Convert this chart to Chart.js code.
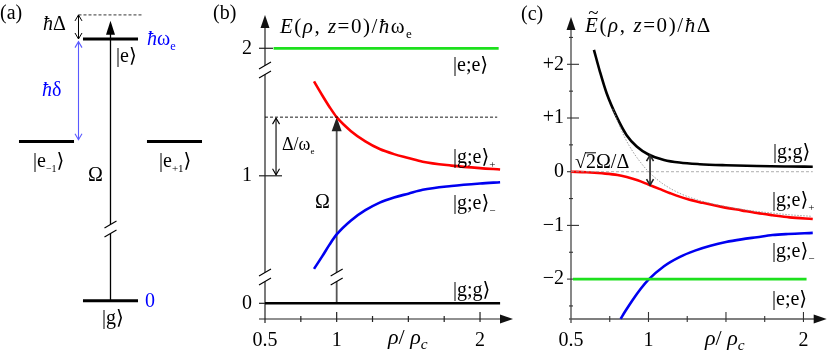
<!DOCTYPE html>
<html>
<head>
<meta charset="utf-8">
<script src="https://cdn.jsdelivr.net/npm/chart.js@4.4.0/dist/chart.umd.min.js"></script>
<style>
  body { margin: 0; background: #fff; width: 830px; height: 359px; position: relative; overflow: hidden; }
  canvas { position: absolute; top: 0; }
</style>
</head>
<body>
<canvas id="panelA" width="215" height="359" style="left:0px"></canvas>
<canvas id="panelB" width="315" height="359" style="left:205px"></canvas>
<canvas id="panelC" width="315" height="359" style="left:515px"></canvas>
<script>
// ---- panel (a): level scheme, energies in units of ħω_e
const aLevelX = [0, 0, -1, 1];          // column of |g>, |e>, |e-1>, |e+1>
const aLevelE = [0, 1, 0.608, 0.608];
const aDetuned = 1.092;                 // ħω_e + ħΔ (laser line)
const aHalfWidth = 0.43;

// ---- panel (b): E(ρ, z=0)/ħω_e
const rhoB = [0.842, 0.9, 0.95, 1.0, 1.1, 1.2, 1.3, 1.4, 1.5, 1.6, 1.8, 2.0, 2.14];
const bPlus = [1.74, 1.63, 1.54, 1.46, 1.35, 1.27, 1.21, 1.17, 1.14, 1.11, 1.08, 1.06, 1.05];
const bMinus = [0.27, 0.37, 0.46, 0.54, 0.65, 0.73, 0.79, 0.83, 0.86, 0.89, 0.92, 0.94, 0.95];
const rhoEEb = [0.56, 2.13];
const bEE = [2, 2];
const rhoGGb = [0.5, 2.14];
const bGG = [0, 0];
const rhoLaserB = [0.5, 2.12];
const bLaser = [1.46, 1.46];
const bTicksX = [0.5, 1, 2];
const bMinorX = [0.75, 1.25, 1.5, 1.75];
const bTicksY = [0, 1, 2];
const bBreaks = [0.206, 1.83];

// ---- panel (c): Ẽ(ρ, z=0)/ħΔ
const rhoGGc = [0.648, 0.687, 0.73, 0.795, 0.859, 0.924, 1.0, 1.1, 1.2, 1.33, 1.5, 1.7, 1.9, 2.06];
const cGG = [2.27, 1.86, 1.46, 1.02, 0.68, 0.47, 0.32, 0.22, 0.17, 0.14, 0.12, 0.105, 0.097, 0.093];
const rhoPlusC = [0.5, 0.6, 0.7, 0.8, 0.86, 0.93, 1.0, 1.07, 1.14, 1.25, 1.35, 1.48, 1.6, 1.7, 1.8, 1.91, 2.06];
const cPlus = [0, -0.01, -0.03, -0.06, -0.10, -0.16, -0.24, -0.32, -0.40, -0.51, -0.58, -0.66, -0.72, -0.77, -0.81, -0.85, -0.88];
const rhoMinusC = [0.82, 0.85, 0.9, 0.95, 1.0, 1.1, 1.2, 1.3, 1.4, 1.5, 1.6, 1.7, 1.8, 1.9, 2.06];
const cMinus = [-2.74, -2.60, -2.38, -2.18, -2.01, -1.76, -1.59, -1.47, -1.38, -1.31, -1.26, -1.22, -1.18, -1.16, -1.14];
const rhoBareC = [0.77, 0.8, 0.85, 0.9, 0.95, 1.0, 1.05, 1.1, 1.2, 1.3, 1.4, 1.5, 1.6, 1.7, 1.8, 1.9, 2.05];
const cBare = [1.17, 0.95, 0.62, 0.37, 0.17, 0.0, -0.13, -0.24, -0.40, -0.51, -0.59, -0.65, -0.70, -0.74, -0.77, -0.80, -0.83];
const rhoEEc = [0.513, 2.02];
const cEE = [-2, -2];
const rhoZeroC = [0.5, 2.06];
const cZero = [0, 0];
const cTicksX = [0.5, 1, 2];
const cMajorX = [1, 1.5, 2];
const cMinorX = [0.75, 1.25, 1.75];
const cTicksY = [-2, -1, 0, 1, 2];
const cMinorY = [-2.5, -1.5, -0.5, 0.5, 1.5, 2.5];
const cTickLabels = ['\u22122', '\u22121', '0', '+1', '+2'];

const SERIF = "'Liberation Serif','DejaVu Serif',serif";
const FS = 20;
const HBAR = ['\u0127', {i: 1}];

// text made of pieces: [text, {i: italic, s: 'sub'|'sup', c: colour, over: bar}]
function rich(ctx, x, y, parts, size = FS, color = '#000', spacing = 0) {
    let cx = x;
    for (const p of parts) {
        const [t, o] = typeof p === 'string' ? [p, {}] : [p[0], p[1] || {}];
        const fs = o.s ? size * (o.k || 0.62) : size;
        ctx.font = (o.i ? 'italic ' : '') + fs + 'px ' + SERIF;
        ctx.letterSpacing = spacing + 'px';
        ctx.fillStyle = o.c || color;
        const dy = o.s === 'sub' ? size * 0.24 : o.s === 'sup' ? -size * 0.38 : 0;
        cx += o.dx || 0;
        ctx.fillText(t, cx, y + dy);
        const w = ctx.measureText(t).width;
        ctx.letterSpacing = '0px';
        if (o.tilde) {
            ctx.font = size * 0.9 + 'px ' + SERIF;
            ctx.fillText('~', cx + w * 0.22, y - size * 0.62);
        }
        if (o.over) {
            ctx.strokeStyle = o.c || color;
            ctx.lineWidth = 1;
            seg(ctx, cx - 1, y - size * 0.76, cx + w, y - size * 0.76);
        }
        cx += w;
    }
    return cx;
}

function seg(ctx, x1, y1, x2, y2) {
    ctx.beginPath();
    ctx.moveTo(x1, y1);
    ctx.lineTo(x2, y2);
    ctx.stroke();
}

function head(ctx, x, y, ang, len, hw, fill) {
    ctx.save();
    ctx.translate(x, y);
    ctx.rotate(ang);
    ctx.beginPath();
    if (fill) {
        ctx.moveTo(0, 0);
        ctx.lineTo(-len, -hw);
        ctx.lineTo(-len, hw);
        ctx.closePath();
        ctx.fill();
    } else {
        ctx.moveTo(-len, -hw);
        ctx.lineTo(0, 0);
        ctx.lineTo(-len, hw);
        ctx.stroke();
    }
    ctx.restore();
}

function dblArrow(ctx, x, yTop, yBot, color, w) {
    ctx.save();
    ctx.strokeStyle = color;
    ctx.lineWidth = w;
    seg(ctx, x, yTop, x, yBot);
    head(ctx, x, yTop, -Math.PI / 2, 6, 3.5, false);
    head(ctx, x, yBot, Math.PI / 2, 6, 3.5, false);
    ctx.restore();
}

// axis break: two slanted strokes with a white gap between them
function brk(ctx, x, y) {
    const w = 6, t = 3.5, g = 4.5;
    ctx.save();
    ctx.fillStyle = '#fff';
    ctx.beginPath();
    ctx.moveTo(x - w, y + g + t);
    ctx.lineTo(x + w, y + g - t);
    ctx.lineTo(x + w, y - g - t);
    ctx.lineTo(x - w, y - g + t);
    ctx.closePath();
    ctx.fill();
    ctx.strokeStyle = '#000';
    ctx.lineWidth = 1.1;
    seg(ctx, x - w, y + g + t, x + w, y + g - t);
    seg(ctx, x - w, y - g + t, x + w, y - g - t);
    ctx.restore();
}

const ket = (inner, sub) => {
    const out = ['|', ...inner, '\u27E9'];
    if (sub) out.push([sub, {s: 'sub', k: 0.55}]);
    return out;
};

const pts = (xs, ys) => xs.map((v, i) => ({x: v, y: ys[i]}));
const line = (data, color, w, extra) => Object.assign({
    data,
    borderColor: color,
    borderWidth: w,
    pointRadius: 0,
    showLine: true,
    fill: false,
    cubicInterpolationMode: 'monotone',
    clip: false,
}, extra || {});

const RED = '#ff0000', BLUE = '#0000f0', GREEN = '#1de01d';

function numberAxis(ticks, labels, fit, padding) {
    return {
        afterBuildTicks: (s) => { s.ticks = ticks.map(v => ({value: v})); },
        afterFit: (s) => {
            fit(s);
            s.paddingTop = 0;
            s.paddingBottom = 0;
            s.paddingLeft = 0;
            s.paddingRight = 0;
        },
        grid: {display: false, drawTicks: false},
        border: {display: false},
        ticks: {
            padding,
            color: '#000',
            font: {family: SERIF, size: FS},
            autoSkip: false,
            maxRotation: 0,
            callback: (v) => {
                const i = ticks.indexOf(v);
                return labels ? labels[i] : String(v);
            },
        },
    };
}

const common = {
    responsive: false,
    animation: false,
    plugins: {legend: {display: false}, tooltip: {enabled: false}},
    events: [],
};

// ---------------- panel (a)
const aDeco = {
    id: 'aDeco',
    afterDatasetsDraw(chart) {
        const {ctx, scales: {x, y}} = chart;
        const X = v => x.getPixelForValue(v), Y = v => y.getPixelForValue(v);
        ctx.save();
        // laser line
        ctx.strokeStyle = '#000';
        ctx.lineWidth = 0.8;
        ctx.setLineDash([3, 2]);
        seg(ctx, X(-0.5), Y(aDetuned), X(0.5), Y(aDetuned));
        ctx.setLineDash([]);
        // Ω arrow
        ctx.lineWidth = 1.3;
        seg(ctx, X(0), Y(0), X(0), Y(1.02));
        ctx.fillStyle = '#000';
        head(ctx, X(0), Y(1.07), -Math.PI / 2, 14, 4.5, true);
        brk(ctx, X(0), Y(0.274));
        // ħΔ and ħδ
        dblArrow(ctx, X(-0.5), Y(aDetuned), Y(1.0), '#000', 1);
        dblArrow(ctx, X(-0.5), Y(0.99), Y(0.615), '#5a5aff', 1.1);
        // labels
        rich(ctx, 0, 19, ['(a)']);
        rich(ctx, 43, 30, [HBAR, '\u0394']);
        rich(ctx, 147, 45, [HBAR, '\u03C9', ['e', {s: 'sub'}]], FS, '#0000ff');
        rich(ctx, 116, 62, ket(['e']));
        rich(ctx, 42, 96, [HBAR, '\u03B4'], FS, '#0000ff');
        rich(ctx, 33, 167, ket(['e', ['\u22121', {s: 'sub', k: 0.5}]]));
        rich(ctx, 159, 167, ket(['e', ['+1', {s: 'sub', k: 0.55}]]));
        rich(ctx, 88, 181, ['\u03A9']);
        rich(ctx, 145, 307, ['0'], FS, '#0000ff');
        rich(ctx, 102, 324, ket(['g']));
        ctx.restore();
    },
};

new Chart(document.getElementById('panelA'), {
    type: 'scatter',
    data: {
        datasets: aLevelE.map((e, i) => line(
            pts([aLevelX[i] - aHalfWidth, aLevelX[i] + aHalfWidth], [e, e]), '#000', 3, {cubicInterpolationMode: 'default'})),
    },
    options: Object.assign({}, common, {
        layout: {padding: 0},
        scales: {
            x: {display: false, min: -1.7266, max: 1.633},
            y: {display: false, min: -0.2228, max: 1.149},
        },
    }),
    plugins: [aDeco],
});

// ---------------- panel (b)
const bDeco = {
    id: 'bDeco',
    beforeDatasetsDraw(chart) {
        const {ctx, chartArea: ca, scales: {x, y}} = chart;
        const X = v => x.getPixelForValue(v), Y = v => y.getPixelForValue(v);
        const x0 = X(0.5), yb = ca.bottom;
        ctx.save();
        ctx.strokeStyle = '#222';
        ctx.fillStyle = '#111';
        ctx.lineWidth = 1.2;
        seg(ctx, x0, yb + 4, x0, ca.top + 10);
        head(ctx, x0, ca.top, -Math.PI / 2, 13, 4.5, true);
        seg(ctx, x0 - 6, yb, ca.right - 10, yb);
        head(ctx, ca.right, yb, 0, 13, 4.5, true);
        bMinorX.forEach(v => seg(ctx, X(v), yb - 3, X(v), yb + 3));
        [1, 2].forEach(v => seg(ctx, X(v), yb - 7, X(v), yb + 3));
        seg(ctx, x0 - 6, Y(2), x0 + 8, Y(2));
        seg(ctx, x0 - 6, Y(1), x0 + 17, Y(1));
        seg(ctx, x0 - 6, Y(0), x0, Y(0));
        // Ω arrow up to the laser line
        ctx.strokeStyle = '#555';
        ctx.fillStyle = '#222';
        ctx.lineWidth = 1.8;
        seg(ctx, X(1), Y(0), X(1), Y(bLaser[0]) + 8);
        head(ctx, X(1), Y(bLaser[0]), -Math.PI / 2, 14, 5, true);
        brk(ctx, X(1), Y(bBreaks[0]));
        bBreaks.forEach(v => brk(ctx, x0, Y(v)));
        ctx.restore();
    },
    afterDatasetsDraw(chart) {
        const {ctx, scales: {x, y}} = chart;
        const X = v => x.getPixelForValue(v), Y = v => y.getPixelForValue(v);
        ctx.save();
        dblArrow(ctx, X(0.577), Y(bLaser[0]) + 1, Y(1) - 1, '#000', 1.1);
        rich(ctx, 8, 19, ['(b)']);
        rich(ctx, 75, 33, [['E', {i: 1}], '(', ['\u03C1', {i: 1}], ', ', ['z', {i: 1}], '=0)/', HBAR, '\u03C9', ['e', {s: 'sub'}]], 21, '#000', 1.5);
        rich(ctx, 248, 71, ket(['e;e']));
        rich(ctx, 248, 163, ket(['g;e'], '+'));
        rich(ctx, 248, 209, ket(['g;e'], '\u2212'));
        rich(ctx, 248, 296, ket(['g;g']));
        rich(ctx, 110, 208, ['\u03A9']);
        rich(ctx, 77, 150, ['\u0394/\u03C9', ['e', {s: 'sub', k: 0.5}]], 18);
        rich(ctx, 183, 344, [['\u03C1', {i: 1}], '/ ', ['\u03C1', {i: 1}], ['c', {i: 1, s: 'sub', k: 0.7}]], 22);
        ctx.restore();
    },
};

new Chart(document.getElementById('panelB'), {
    type: 'scatter',
    data: {
        datasets: [
            line(pts(rhoLaserB, bLaser), '#000', 0.9, {borderDash: [3, 2]}),
            line(pts(rhoEEb, bEE), GREEN, 2.8),
            line(pts(rhoGGb, bGG), '#000', 2.6),
            line(pts(rhoB, bPlus), RED, 2.6),
            line(pts(rhoB, bMinus), BLUE, 2.6),
        ],
    },
    options: Object.assign({}, common, {
        layout: {padding: {left: 0, right: 7, top: 15, bottom: 0}},
        scales: {
            x: Object.assign(numberAxis(bTicksX, null, s => { s.height = 40; }, 10), {min: 0.5, max: 2.23}),
            y: Object.assign(numberAxis(bTicksY, null, s => { s.width = 60; }, 13), {min: -0.123, max: 2.261}),
        },
    }),
    plugins: [bDeco],
});

// ---------------- panel (c)
const cDeco = {
    id: 'cDeco',
    beforeDatasetsDraw(chart) {
        const {ctx, chartArea: ca, scales: {x, y}} = chart;
        const X = v => x.getPixelForValue(v), Y = v => y.getPixelForValue(v);
        const x0 = X(0.5), yb = ca.bottom;
        ctx.save();
        ctx.strokeStyle = '#555';
        ctx.fillStyle = '#111';
        ctx.lineWidth = 1.4;
        seg(ctx, x0, yb + 4, x0, ca.top + 10);
        head(ctx, x0, ca.top, -Math.PI / 2, 13, 4.5, true);
        seg(ctx, x0 - 2, yb, ca.right - 10, yb);
        head(ctx, ca.right, yb, 0, 13, 4.5, true);
        ctx.strokeStyle = '#333';
        ctx.lineWidth = 1.1;
        cMajorX.forEach(v => seg(ctx, X(v), yb - 7, X(v), yb + 3));
        cMinorX.forEach(v => seg(ctx, X(v), yb - 3, X(v), yb + 3));
        cTicksY.forEach(v => seg(ctx, x0 - 4, Y(v), x0 + 8, Y(v)));
        cMinorY.forEach(v => seg(ctx, x0 - 2, Y(v), x0 + 2, Y(v)));
        ctx.restore();
    },
    afterDatasetsDraw(chart) {
        const {ctx, scales: {x, y}} = chart;
        const X = v => x.getPixelForValue(v), Y = v => y.getPixelForValue(v);
        ctx.save();
        // splitting at the crossing ρ = ρ_c
        ctx.fillStyle = '#222';
        dblArrow(ctx, X(1.01), Y(0.31), Y(-0.25), '#222', 1.6);
        rich(ctx, 6, 20, ['(c)']);
        rich(ctx, 70, 32, [['E', {i: 1, tilde: 1}], '(', ['\u03C1', {i: 1}], ', ', ['z', {i: 1}], '=0)/', HBAR, '\u0394'], 21, '#000', 1.6);
        const sx = rich(ctx, 60, 168, ['\u221A']);
        rich(ctx, sx, 168, [['2', {over: 1}], '\u03A9/\u0394']);
        rich(ctx, 258, 158, ket(['g;g']));
        rich(ctx, 257, 206, ket(['g;e'], '+'));
        rich(ctx, 257, 257, ket(['g;e'], '\u2212'));
        rich(ctx, 257, 305, ket(['e;e']));
        rich(ctx, 190, 345, [['\u03C1', {i: 1}], '/ ', ['\u03C1', {i: 1}], ['c', {i: 1, s: 'sub', k: 0.7}]], 22);
        ctx.restore();
    },
};

new Chart(document.getElementById('panelC'), {
    type: 'scatter',
    data: {
        datasets: [
            line(pts(rhoZeroC, cZero), '#999', 0.8, {borderDash: [3, 2]}),
            line(pts(rhoBareC, cBare), '#888', 0.8, {borderDash: [1.5, 1.5]}),
            line(pts(rhoEEc, cEE), GREEN, 2.8),
            line(pts(rhoGGc, cGG), '#000', 2.6),
            line(pts(rhoPlusC, cPlus), RED, 2.6),
            line(pts(rhoMinusC, cMinus), BLUE, 2.6),
        ],
    },
    options: Object.assign({}, common, {
        layout: {padding: {left: 0, right: 3.3, top: 17, bottom: 0}},
        scales: {
            x: Object.assign(numberAxis(cTicksX, null, s => { s.height = 40; }, 10), {min: 0.5, max: 2.15}),
            y: Object.assign(numberAxis(cTicksY, cTickLabels, s => { s.width = 56; }, 7), {min: -2.743, max: 2.881}),
        },
    }),
    plugins: [cDeco],
});
</script>
</body>
</html>
